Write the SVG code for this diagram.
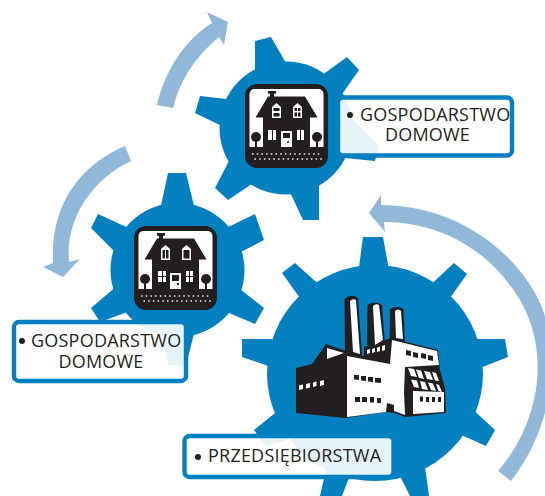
<svg xmlns="http://www.w3.org/2000/svg" width="545" height="496" viewBox="0 0 545 496">
<style>
.gear{fill:#0380c0}
.arrow{fill:#91b8d9}
.label{fill:#fff;fill-opacity:.9;stroke:#0380c0;stroke-width:4.4}
.t{font-family:"Open Sans","Noto Sans",sans-serif;font-size:18px;fill:#231f20;letter-spacing:.22px}
.k{fill:#231f20}
.w{fill:#fff}
</style>
<defs>
<g id="house-base">
<rect class="k" x="245" y="84" width="83" height="84" rx="12"/>
<rect class="w" x="249.500" y="89" width="74" height="62" rx="5"/>
<rect class="k" x="268" y="91" width="8" height="2.800"/>
<rect class="k" x="270" y="93" width="4" height="5"/>
<path class="k" d="M268,96.500H305L317.500,117.500H310V147H263V117.500H255.500Z"/>
<rect class="k" x="249" y="147" width="75" height="5"/>
<circle class="k" cx="256" cy="137" r="5"/><rect class="k" x="255" y="140" width="2" height="8"/>
<circle class="k" cx="317" cy="137" r="5"/><rect class="k" x="316" y="140" width="2" height="8"/>
<path d="M252,154H322M254.500,159H322" stroke="#f0f0f0" stroke-width="1.500" stroke-dasharray="1.500 3.200" fill="none"/>
<path class="w" d="M281,131H292V147H281Z"/>
</g>
</defs>
<g id="connectors">
<path class="arrow" d="M157,105C165,70 185,40 212,23L207,12L228,22L224,45L219,37C195,57 180,80 173,108Z"/>
<path class="arrow" d="M125,146C80,165 50,205 53,263L43,267L63,277L80,259L69,262C65,222 90,180 131,161Z"/>
<path class="arrow" d="M381,205V195L369,213L385,232L384,222C440,222 490,250 520,300C552,355 538,425 498,471L511,481C558,420 562,340 535,293C505,240 445,205 381,205Z"/>
</g>
<g id="gear-top">
<circle class="gear" cx="286" cy="128" r="66.500"/>
<path class="gear" d="M255,75L255,41L271,37L290,70ZM318,78L347,57L359,70L338,100ZM235,100L200,96L195,113L230,130ZM232,155L215,188L228,200L258,180ZM289,190L303,220H319V180ZM345,115L353,120L379,145L375,161L345,158Z"/>
</g>
<g id="gear-left">
<circle class="gear" cx="177.500" cy="270" r="67"/>
<path class="gear" d="M160,210L168,173H186L195,210ZM222,230L255,214L264,240L235,255ZM235,285L264,308L255,324L222,310ZM133,230L98,214L91,228L118,255ZM118,285L91,308L100,322L133,310ZM160,330L168,365H186L195,330Z"/>
</g>
<g id="gear-factory">
<circle class="gear" cx="375" cy="373" r="108"/>
<path class="gear" d="M358,275L363,237H383L390,275ZM425,290L454,263L467,274L445,305ZM470,345L477,339H505L508,357L475,370ZM468,405L495,430L486,446L450,430ZM415,470L425,467L429,496H410L397,470ZM320,496H342L352,470L327,465ZM325,290L295,263L282,273L305,305ZM280,345L272,339H242V357L280,370ZM285,405L254,430L266,447L300,435Z"/>
</g>
<g id="house-1">
<use href="#house-base"/>
<path class="w" d="M272,118V107L276.500,103L281,107V118ZM293,118V107L297.500,103L302,107V118Z"/>
<path class="k" d="M273.500,108H279.500V111H273.500ZM273.500,113H279.500V116.500H273.500ZM294.500,108H297V111H294.500ZM298,108H300.500V111H298ZM294.500,112.500H297V116.500H294.500ZM298,112.500H300.500V116.500H298Z"/>
<path class="w" d="M268,130H272V140H268ZM273,130H276V140H273ZM297,130H300V140H297ZM301,130H304V140H301Z"/>
<path class="k" d="M283,133H290V138H283Z"/><circle class="k" cx="288" cy="142" r="1"/>
</g>
<g id="house-2">
<use href="#house-base" transform="translate(-111 142)"/>
<path class="w" d="M161,260V249L165.500,245L170,249V260ZM182,260V249L186.500,245L191,249V260Z"/>
<path class="k" d="M162.500,250H165V258.500H162.500ZM166,250H168.500V258.500H166ZM183.500,250H189.500V258.500H183.500Z"/>
<path class="w" d="M158,271H162V276H158ZM163,271H166V276H163ZM158,277H162V282H158ZM163,277H166V282H163ZM186,271H189V276H186ZM190,271H193V276H190ZM186,277H189V282H186ZM190,277H193V282H190Z"/>
<path class="k" d="M172,275H179V281H172Z"/><rect class="k" x="177" y="283" width="2" height="2"/>
</g>
<g id="factory">
<path class="k" d="M345,356L344.500,299Q351,293 358,298L362,356ZM367,345L367.500,305Q375,300 382,305L385,345ZM389.500,345L390,309Q397,305 403.500,309L405,345Z"/>
<path class="k" d="M296,368L312,364L326,344L346,351L364,356V347L391,338L438,350L440,370L445,388L446,413L405,417L395,413L387,412L345,418L296,413Z"/>
<path class="w" d="M350,301Q353,298 356,300L360,354L353,352ZM373,306Q376,303 379,305L383,340L375,345ZM395,311Q398,308 401,311L403,339L396,338Z"/>
<path class="w" d="M347,356L390,364L392,340L437,351L439,365L405,367L404,392L405,415L394,411V405L387,403L386,412L347,417Z"/>
<path class="w" d="M327,348L344,353L327,359ZM299,385.500L303,384.500V389L299,390ZM306,384L310,383V387.500L306,388.500ZM313,382.500L316.500,381.500V386L313,387ZM320,381L324,380V385L320,386Z"/>
<path class="w" d="M367,350L370,349V353L367,354ZM372,349L375,348V352L372,353ZM377,347.500L380,346.500V351L377,352ZM382,346L385,345V350L382,351Z"/>
<path class="k" d="M354,375H359V380L354,379.500ZM361,376H366V381L361,380.500ZM368,377H373V382L368,381.500ZM375,378H381V383L375,382.500ZM355,397H360V402H355ZM362,397H367V402H362ZM370,397H374V402.500H370ZM377,398H381V403H377ZM406,350L411,351V356L406,355ZM413,352L418,353V358L413,357ZM421,353L426,354V359L421,358ZM428,355L433,356V361L428,360Z"/>
<path class="w" d="M408,368L414,369L417,377L411,376ZM416,369.500L421,370.500L424,379L419,378ZM424,371L430,372L433,380L427,379ZM432,372L436,373L439,381L435,380.500ZM411,379.500L417,380.500L419,388L414,387ZM420,381L425,382L428,390L422,389ZM428,382.500L433,383.500L436,391L431,390ZM436,384L439,385L442,392L438.500,391ZM413,391L444,392V412L413,414Z"/>
<path class="k" d="M420,396.500H423V401.500H420ZM426,397H429V402H426ZM432,397H435V402H432ZM438,397H441V402H438Z"/>
</g>
<g id="label-1">
<rect class="label" x="338" y="97.500" width="174" height="58" rx="5"/>
<circle class="k" cx="350" cy="115" r="3"/>
<text class="t" x="360" y="121">GOSPODARSTWO</text>
<text class="t" x="427.500" y="141" text-anchor="middle">DOMOWE</text>
</g>
<g id="label-2">
<rect class="label" x="14" y="322" width="172" height="59" rx="5"/>
<circle class="k" cx="22" cy="341" r="3"/>
<text class="t" x="31" y="347">GOSPODARSTWO</text>
<text class="t" x="101" y="368" text-anchor="middle">DOMOWE</text>
</g>
<g id="label-3">
<rect class="label" x="184.500" y="436" width="209" height="41" rx="5"/>
<circle class="k" cx="198" cy="457" r="3"/>
<text class="t" x="208" y="462">PRZEDSIĘBIORSTWA</text>
</g>
</svg>
